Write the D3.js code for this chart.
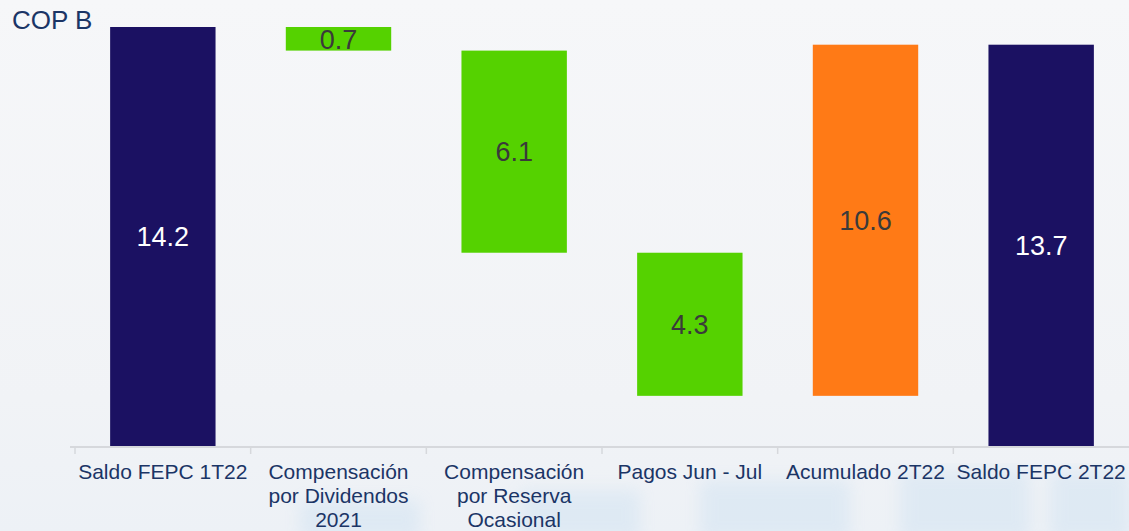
<!DOCTYPE html>
<html>
<head>
<meta charset="utf-8">
<script src="https://cdn.jsdelivr.net/npm/d3@7"></script>
<style>
  body { margin: 0; padding: 0; background: #f1f3f6; }
  svg { display: block; font-family: "Liberation Sans", Arial, sans-serif; }
</style>
</head>
<body>
<svg id="chart"></svg>
<script>
const WIDTH = 1129;
const HEIGHT = 531;

// categories (axis labels, one entry per line)
const categories = ['Saldo FEPC 1T22', 'Compensación por Dividendos 2021', 'Compensación por Reserva Ocasional',
                    'Pagos Jun - Jul', 'Acumulado 2T22', 'Saldo FEPC 2T22'];
const categoryLines = [['Saldo FEPC 1T22'], ['Compensación', 'por Dividendos', '2021'],
                       ['Compensación', 'por Reserva', 'Ocasional'], ['Pagos Jun - Jul'],
                       ['Acumulado 2T22'], ['Saldo FEPC 2T22']];
// bar kind: total starts at zero, delta floats from the running total
const barTypes = ['total', 'delta', 'delta', 'delta', 'delta', 'total'];
// plotted bar sizes as drawn in the picture (COP B)
const barValues = [14.2, -0.8, -6.85, -4.85, 11.9, 13.6];
// printed labels
const valueLabels = ['14.2', '0.7', '6.1', '4.3', '10.6', '13.7'];
const barColors = ['#1b1162', '#55d200', '#55d200', '#55d200', '#ff7a16', '#1b1162'];
const labelColors = ['#ffffff', '#3a3a3a', '#3a3a3a', '#3a3a3a', '#3a3a3a', '#ffffff'];

const svg = d3.select('#chart').attr('width', WIDTH).attr('height', HEIGHT);

// background
const defs = svg.append('defs');
const bg = defs.append('linearGradient').attr('id', 'bg').attr('x1', 0).attr('y1', 0).attr('x2', 0).attr('y2', 1);
bg.append('stop').attr('offset', 0).attr('stop-color', '#f6f7f9');
bg.append('stop').attr('offset', 0.75).attr('stop-color', '#f1f3f6');
bg.append('stop').attr('offset', 1).attr('stop-color', '#edf1f6');
defs.append('filter').attr('id', 'blur').append('feGaussianBlur').attr('stdDeviation', 8);

svg.append('rect').attr('width', WIDTH).attr('height', HEIGHT).attr('fill', 'url(#bg)');

// faint decorative blocks in the background, bottom area
const deco = svg.append('g').attr('filter', 'url(#blur)').attr('opacity', 0.18);
[[300, 500, 120, 40], [520, 490, 120, 50], [700, 480, 150, 60], [900, 470, 130, 70], [1050, 470, 80, 70]]
  .forEach(r => {
    deco.append('rect').attr('x', r[0]).attr('y', r[1]).attr('width', r[2]).attr('height', r[3])
      .attr('fill', '#9cc8ea');
  });

const x = d3.scaleBand()
  .domain(categories)
  .range([75, 1129])
  .paddingInner(0.4)
  .paddingOuter(0.2);

const y = d3.scaleLinear()
  .domain([0, 14.2])
  .range([446, 27]);

// waterfall extents
let running = 0;
const bars = categories.map((c, i) => {
  let start, end;
  if (barTypes[i] === 'total') {
    start = 0; end = barValues[i];
  } else {
    start = running; end = running + barValues[i];
  }
  running = end;
  return {cat: c, start: start, end: end, label: valueLabels[i], color: barColors[i], labelColor: labelColors[i]};
});

// axis line and ticks
const axisY = 447;
svg.append('line')
  .attr('x1', 70).attr('x2', WIDTH)
  .attr('y1', axisY).attr('y2', axisY)
  .style('stroke', '#d6d8dc').style('stroke-width', 2);

const boundaries = categories.map(c => x(c) - x.step() * x.paddingInner() / 2);
svg.selectAll('line.tick')
  .data(boundaries)
  .enter().append('line')
  .attr('class', 'tick')
  .attr('x1', d => d).attr('x2', d => d)
  .attr('y1', axisY).attr('y2', axisY + 7)
  .style('stroke', '#d6d8dc').style('stroke-width', 1.5);

// bars
svg.selectAll('rect.bar')
  .data(bars)
  .enter().append('rect')
  .attr('class', 'bar')
  .attr('x', d => x(d.cat))
  .attr('width', x.bandwidth())
  .attr('y', d => y(Math.max(d.start, d.end)))
  .attr('height', d => Math.abs(y(d.start) - y(d.end)))
  .style('fill', d => d.color);

// value labels
svg.selectAll('text.value')
  .data(bars)
  .enter().append('text')
  .attr('class', 'value')
  .attr('x', d => x(d.cat) + x.bandwidth() / 2)
  .attr('y', d => (y(d.start) + y(d.end)) / 2)
  .attr('dy', '0.36em')
  .style('text-anchor', 'middle')
  .style('font-size', '27px')
  .style('fill', d => d.labelColor)
  .text(d => d.label);

// category labels
const catText = svg.selectAll('text.cat')
  .data(categories)
  .enter().append('text')
  .attr('class', 'cat')
  .style('text-anchor', 'middle')
  .style('font-size', '21px')
  .style('fill', '#1b3566');

catText.each(function(d, i) {
  const t = d3.select(this);
  categoryLines[i].forEach((line, j) => {
    t.append('tspan')
      .attr('x', x(d) + x.bandwidth() / 2)
      .attr('y', 479 + j * 24)
      .text(line);
  });
});

// unit label
svg.append('text')
  .attr('x', 12)
  .attr('y', 29)
  .style('font-size', '26px')
  .style('fill', '#1b3566')
  .text('COP B');
</script>
</body>
</html>
